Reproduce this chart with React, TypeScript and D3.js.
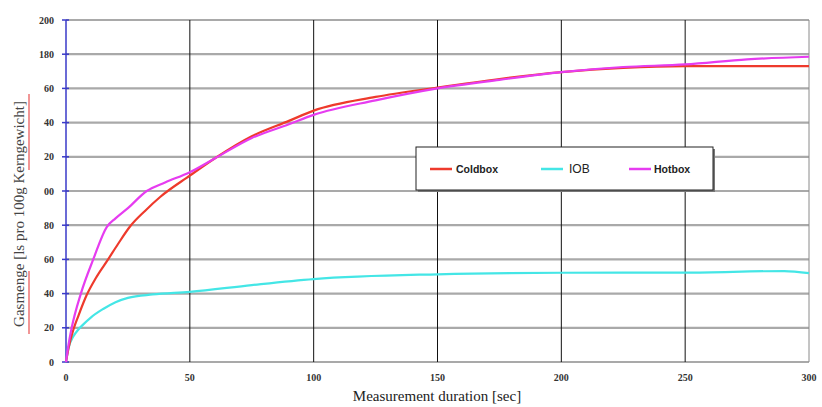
import React from 'react';
import * as d3 from 'd3';

// x ticks (seconds)
const xTicks = [0, 50, 100, 150, 200, 250, 300];
// y ticks and the labels as they appear in the picture (leading digits cut off)
const yTicks = [0, 20, 40, 60, 80, 100, 120, 140, 160, 180, 200];
const yTickLabels = ['0', '20', '40', '60', '80', '00', '20', '40', '60', '180', '200'];

const coldboxT = [0, 1, 3, 5, 8.3, 12, 17, 21, 26, 32, 38, 50, 60, 75, 90, 100, 125, 150, 175, 200, 225, 250, 275, 300];
const coldboxV = [0, 8, 19, 27, 39, 49, 60, 69, 79.5, 88.5, 96.5, 109, 119, 132, 141, 147, 155, 160.5, 165.5, 169.5, 172, 173, 173, 173];

const iobT = [0, 1, 3, 5, 7, 10, 15, 20, 25, 35, 50, 75, 100, 150, 200, 250, 290, 300];
const iobV = [0, 8, 15, 19, 22, 26, 31, 35, 37.5, 39.5, 41, 45, 48.5, 51.3, 52.2, 52.3, 53.2, 52];

const hotboxT = [0, 1, 2.3, 6, 11, 16.5, 20, 25, 32.6, 40, 50, 60, 75, 90, 100, 125, 150, 175, 200, 225, 250, 275, 300];
const hotboxV = [0, 10, 20, 40, 60, 79, 84, 90, 100, 105, 111, 119, 131, 139, 144.5, 153, 160, 165, 169.5, 172.5, 174, 177, 178.5];

const seriesNames = ['Coldbox', 'IOB', 'Hotbox'];
const seriesColors = ['#ee3a2c', '#44e6e6', '#e63cf0'];

const W = 822;
const H = 407;
const left = 66;
const right = 809;
const top = 20;
const bottom = 362;

export default function App() {
  const x = d3.scaleLinear().domain([0, 300]).range([left, right]);
  const y = d3.scaleLinear().domain([0, 200]).range([bottom, top]);
  const line = d3
    .line<[number, number]>()
    .x((d) => x(d[0]))
    .y((d) => y(d[1]))
    .curve(d3.curveMonotoneX);

  const series = [
    coldboxT.map((t, i) => [t, coldboxV[i]] as [number, number]),
    iobT.map((t, i) => [t, iobV[i]] as [number, number]),
    hotboxT.map((t, i) => [t, hotboxV[i]] as [number, number]),
  ];
  // draw order: IOB, Coldbox, Hotbox on top
  const order = [1, 0, 2];

  const serif = '"Liberation Serif", "DejaVu Serif", serif';
  const sans = '"Liberation Sans", Arial, sans-serif';

  const legendX = 416;
  const legendY = 147;
  const legendItems = [
    { lx: 430, tx: 456, size: 10.5, weight: 700 },
    { lx: 541, tx: 569, size: 12, weight: 400 },
    { lx: 629, tx: 654, size: 10.5, weight: 700 },
  ];

  return (
    <svg
      width={W}
      height={H}
      style={{ position: 'absolute', left: 0, top: 0, background: '#fff' }}
    >
      {/* horizontal grid */}
      {yTicks.map((v) => (
        <line
          key={'h' + v}
          x1={left}
          x2={right}
          y1={y(v)}
          y2={y(v)}
          stroke="#a9a9a9"
          strokeWidth={2.2}
        />
      ))}
      {/* vertical grid */}
      {xTicks.slice(1).map((v) => (
        <line
          key={'v' + v}
          x1={x(v)}
          x2={x(v)}
          y1={top}
          y2={bottom}
          stroke={v === 300 ? '#8a8a8a' : '#111'}
          strokeWidth={1}
        />
      ))}
      {/* y axis */}
      <line x1={left} x2={left} y1={top} y2={bottom} stroke="#3a3ac8" strokeWidth={1.5} />
      {yTicks.map((v) => (
        <line
          key={'yt' + v}
          x1={left - 4}
          x2={left + 3}
          y1={y(v)}
          y2={y(v)}
          stroke="#3a3ac8"
          strokeWidth={1.5}
        />
      ))}
      {yTicks.map((v, i) => (
        <text
          key={'yl' + v}
          x={54}
          y={y(v)}
          dy="0.35em"
          textAnchor="end"
          fontFamily={serif}
          fontWeight={700}
          fontSize={10}
          fill="#333"
        >
          {yTickLabels[i]}
        </text>
      ))}
      {xTicks.map((v) => (
        <text
          key={'xl' + v}
          x={x(v)}
          y={381}
          textAnchor="middle"
          fontFamily={serif}
          fontWeight={700}
          fontSize={10}
          fill="#333"
        >
          {v}
        </text>
      ))}

      {/* series */}
      {order.map((i) => (
        <path
          key={seriesNames[i]}
          d={line(series[i]) || ''}
          fill="none"
          stroke={seriesColors[i]}
          strokeWidth={2.2}
          strokeLinejoin="round"
        />
      ))}

      {/* legend */}
      <rect x={legendX + 2} y={legendY + 2} width={297} height={43} fill="#777" />
      <rect x={legendX} y={legendY} width={297} height={43} fill="#fff" stroke="#222" strokeWidth={1} />
      {legendItems.map((it, i) => (
        <g key={'lg' + i}>
          <line
            x1={it.lx}
            x2={it.lx + 22}
            y1={169}
            y2={169}
            stroke={seriesColors[i]}
            strokeWidth={2.5}
          />
          <text
            x={it.tx}
            y={169}
            dy="0.35em"
            fontFamily={sans}
            fontSize={it.size}
            fontWeight={it.weight}
            fill="#222"
          >
            {seriesNames[i]}
          </text>
        </g>
      ))}

      {/* axis titles */}
      <text
        x={437}
        y={401}
        textAnchor="middle"
        fontFamily={serif}
        fontSize={15}
        fill="#222"
      >
        Measurement duration [sec]
      </text>
      <g transform="translate(24,214) rotate(-90)">
        <text
          x={0}
          y={0}
          textAnchor="middle"
          fontFamily={serif}
          fontSize={15}
          fill="#444"
        >
          Gasmenge [ls pro 100g Kerngewicht]
        </text>
        <line x1={-120} x2={-57} y1={5} y2={5} stroke="#e85050" strokeWidth={1.2} />
        <line x1={44} x2={120} y1={5} y2={5} stroke="#e85050" strokeWidth={1.2} />
      </g>
    </svg>
  );
}
